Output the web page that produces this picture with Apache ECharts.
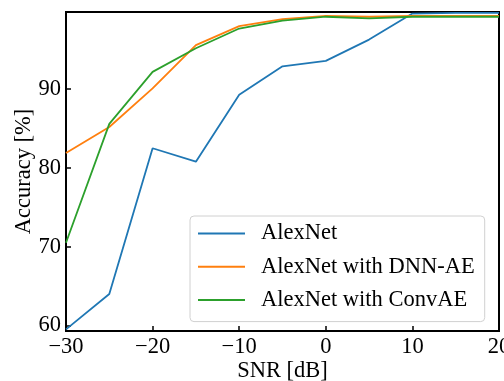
<!DOCTYPE html>
<html><head><meta charset="utf-8">
<script src="https://cdn.jsdelivr.net/npm/echarts@6/dist/echarts.min.js"></script>
<style>html,body{margin:0;padding:0;background:#fff}#c{width:504px;height:381px}</style>
</head><body><div id="c"></div>
<script>
const snr = [-30, -25, -20, -15, -10, -5, 0, 5, 10, 15, 20];
const alexnet = [59.5, 64.0, 82.5, 80.8, 89.3, 92.9, 93.6, 96.3, 99.6, 99.7, 99.7];
const dnnAE = [81.9, 85.2, 90.1, 95.6, 98.0, 98.9, 99.3, 99.2, 99.3, 99.3, 99.3];
const convAE = [70.5, 85.6, 92.2, 95.2, 97.7, 98.7, 99.2, 99.0, 99.2, 99.2, 99.2];
const seriesNames = ['AlexNet', 'AlexNet with DNN-AE', 'AlexNet with ConvAE'];
const colors = ['#1f77b4', '#ff7f0e', '#2ca02c'];
const xTicks = [-30, -20, -10, 0, 10, 20];
const yTicks = [60, 70, 80, 90];

const font = 'Liberation Serif';
const fs = 22.5;
const minus = v => String(v).replace('-', '\u2212');
const pair = arr => snr.map((x, i) => [x, arr[i]]);

const chart = echarts.init(document.getElementById('c'));
chart.setOption({
  animation: false,
  grid: { left: 66, right: 5, top: 12, bottom: 50, containLabel: false, outerBoundsMode: 'none',
    show: true, borderColor: '#000', borderWidth: 2, backgroundColor: 'transparent' },
  xAxis: {
    type: 'value', min: -30, max: 20, interval: 10,
    name: 'SNR [dB]', nameLocation: 'middle', nameGap: 29, nameMoveOverlap: false,
    nameTextStyle: { fontFamily: font, fontSize: fs, color: '#000' },
    axisLine: { onZero: false, lineStyle: { color: '#000', width: 2 } },
    axisTick: { inside: true, length: 5, lineStyle: { color: '#000', width: 1.5 } },
    axisLabel: { margin: 5, fontFamily: font, fontSize: fs, color: '#000', formatter: v => xTicks.includes(v) ? minus(v) : '' },
    splitLine: { show: false }
  },
  yAxis: {
    type: 'value', min: 59.3, max: 99.8, splitNumber: 4,
    name: 'Accuracy [%]', nameLocation: 'middle', nameGap: 30, nameMoveOverlap: false,
    nameTextStyle: { fontFamily: font, fontSize: fs, color: '#000' },
    axisLine: { onZero: false, lineStyle: { color: '#000', width: 2 } },
    axisTick: { inside: true, length: 5, lineStyle: { color: '#000', width: 1.5 } },
    axisLabel: { margin: 5, fontFamily: font, fontSize: fs, color: '#000', showMinLabel: false, showMaxLabel: false,
      formatter: v => yTicks.includes(Math.round(v * 1000) / 1000) ? String(v) : '' },
    splitLine: { show: false }
  },
  legend: {
    orient: 'vertical', left: 190, top: 216,
    padding: [6, 10, 10, 8], itemGap: 10.3,
    itemWidth: 47, itemHeight: 2, icon: 'rect',
    backgroundColor: 'rgba(255,255,255,0.8)', borderColor: '#d0d0d0', borderWidth: 1, borderRadius: 4,
    textStyle: { fontFamily: font, fontSize: fs, color: '#000', lineHeight: 22, padding: [0, 0, 0, 11] },
    data: seriesNames
  },
  series: [alexnet, dnnAE, convAE].map((d, i) => ({
    name: seriesNames[i], type: 'line', data: pair(d), symbol: 'none',
    lineStyle: { color: colors[i], width: 1.8 }, itemStyle: { color: colors[i] }, z: 2 + i
  }))
});
</script></body></html>
